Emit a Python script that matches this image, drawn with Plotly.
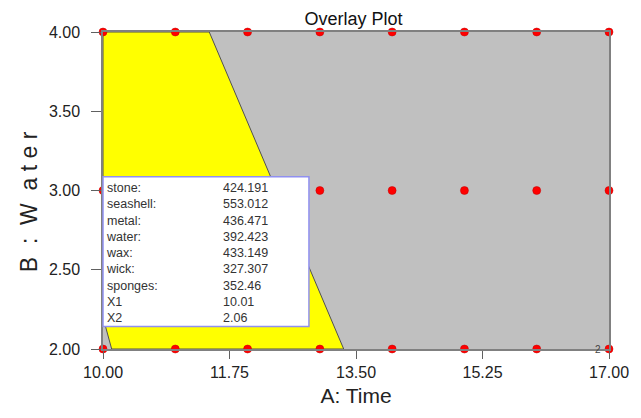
import plotly.graph_objects as go

# Design points (A: Time, B: Water)
design_time = [10, 11, 12, 13, 14, 15, 16, 17,
               10, 11, 12, 13, 14, 15, 16, 17,
               10, 11, 12, 13, 14, 15, 16, 17]
design_water = [4.0] * 8 + [3.0] * 8 + [2.0] * 8

# Sweet-spot (yellow) region boundary
region_time = [10.0, 10.0, 11.47, 13.33, 10.12, 10.0]
region_water = [2.2, 4.0, 4.0, 2.0, 2.0, 2.2]

# Flag box contents
flag_labels = ["stone:", "seashell:", "metal:", "water:", "wax:", "wick:", "sponges:", "X1", "X2"]
flag_values = ["424.191", "553.012", "436.471", "392.423", "433.149", "327.307", "352.46", "10.01", "2.06"]

x_ticks = [10.00, 11.75, 13.50, 15.25, 17.00]
y_ticks = [2.00, 2.50, 3.00, 3.50, 4.00]

FONT = "Arial, Liberation Sans, sans-serif"
NB = "\u00a0"

fig = go.Figure()
fig.add_trace(go.Scatter(
    x=region_time, y=region_water, mode="lines", fill="toself",
    fillcolor="#ffff00", line=dict(color="#505050", width=1),
    hoverinfo="skip", showlegend=False))
fig.add_trace(go.Scatter(
    x=design_time, y=design_water, mode="markers",
    marker=dict(symbol="circle", size=8, color="#ff0000",
                line=dict(color="#c00000", width=0.5)),
    cliponaxis=False, showlegend=False))

fig.update_layout(
    width=641, height=418,
    margin=dict(l=103, r=29, t=32, b=69),
    paper_bgcolor="white", plot_bgcolor="#c0c0c0",
    font=dict(family=FONT, color="#222222"),
    title=dict(text="Overlay Plot", x=0.495, xref="paper", xanchor="center",
               y=0.955, yanchor="middle", font=dict(size=18, color="#111111")),
    xaxis=dict(range=[10, 17], tickvals=x_ticks,
               ticktext=[f"{v:.2f}" for v in x_ticks],
               showgrid=False, zeroline=False, showline=True, mirror=True,
               linecolor="#808080", linewidth=1.5, ticks="outside", ticklen=8,
               tickcolor="#606060", tickfont=dict(size=16, color="#222222"),
               title=dict(text="A: Time", font=dict(size=21, color="#222222"), standoff=8)),
    yaxis=dict(range=[2, 4], tickvals=y_ticks,
               ticktext=[f"{v:.2f}" for v in y_ticks],
               showgrid=False, zeroline=False, showline=True, mirror=True,
               linecolor="#808080", linewidth=1.5, ticks="outside", ticklen=10,
               tickcolor="#606060", tickfont=dict(size=16, color="#222222"),
               ticklabelstandoff=8),
)

# Y axis title (placed as annotation to match offset)
fig.add_annotation(xref="paper", yref="paper", x=-0.147, y=0.465,
                   xanchor="center", yanchor="middle", textangle=-90, showarrow=False,
                   text=f"B{NB*2}:{NB*2}W{NB*2}a{NB}t{NB}e{NB}r",
                   font=dict(size=23, color="#222222", family=FONT))

# Flag box
fig.add_shape(type="rect", xref="paper", yref="paper",
              x0=0.0, x1=0.407, y0=0.071, y1=0.543,
              fillcolor="white", line=dict(color="#9090f0", width=1.5), layer="above")
fig.add_annotation(xref="paper", yref="paper", x=0.002, y=0.537,
                   xanchor="left", yanchor="top", align="left", showarrow=False,
                   text="<br>".join(flag_labels),
                   font=dict(size=12.5, color="#333333", family=FONT))
fig.add_annotation(xref="paper", yref="paper", x=0.234, y=0.537,
                   xanchor="left", yanchor="top", align="left", showarrow=False,
                   text="<br>".join(flag_values),
                   font=dict(size=12.5, color="#333333", family=FONT))
fig.add_annotation(xref="paper", yref="paper", x=0.978, y=0.0,
                   xanchor="center", yanchor="middle", showarrow=False,
                   text="2", font=dict(size=10, color="#444444", family=FONT))

fig.write_html("out.html")
